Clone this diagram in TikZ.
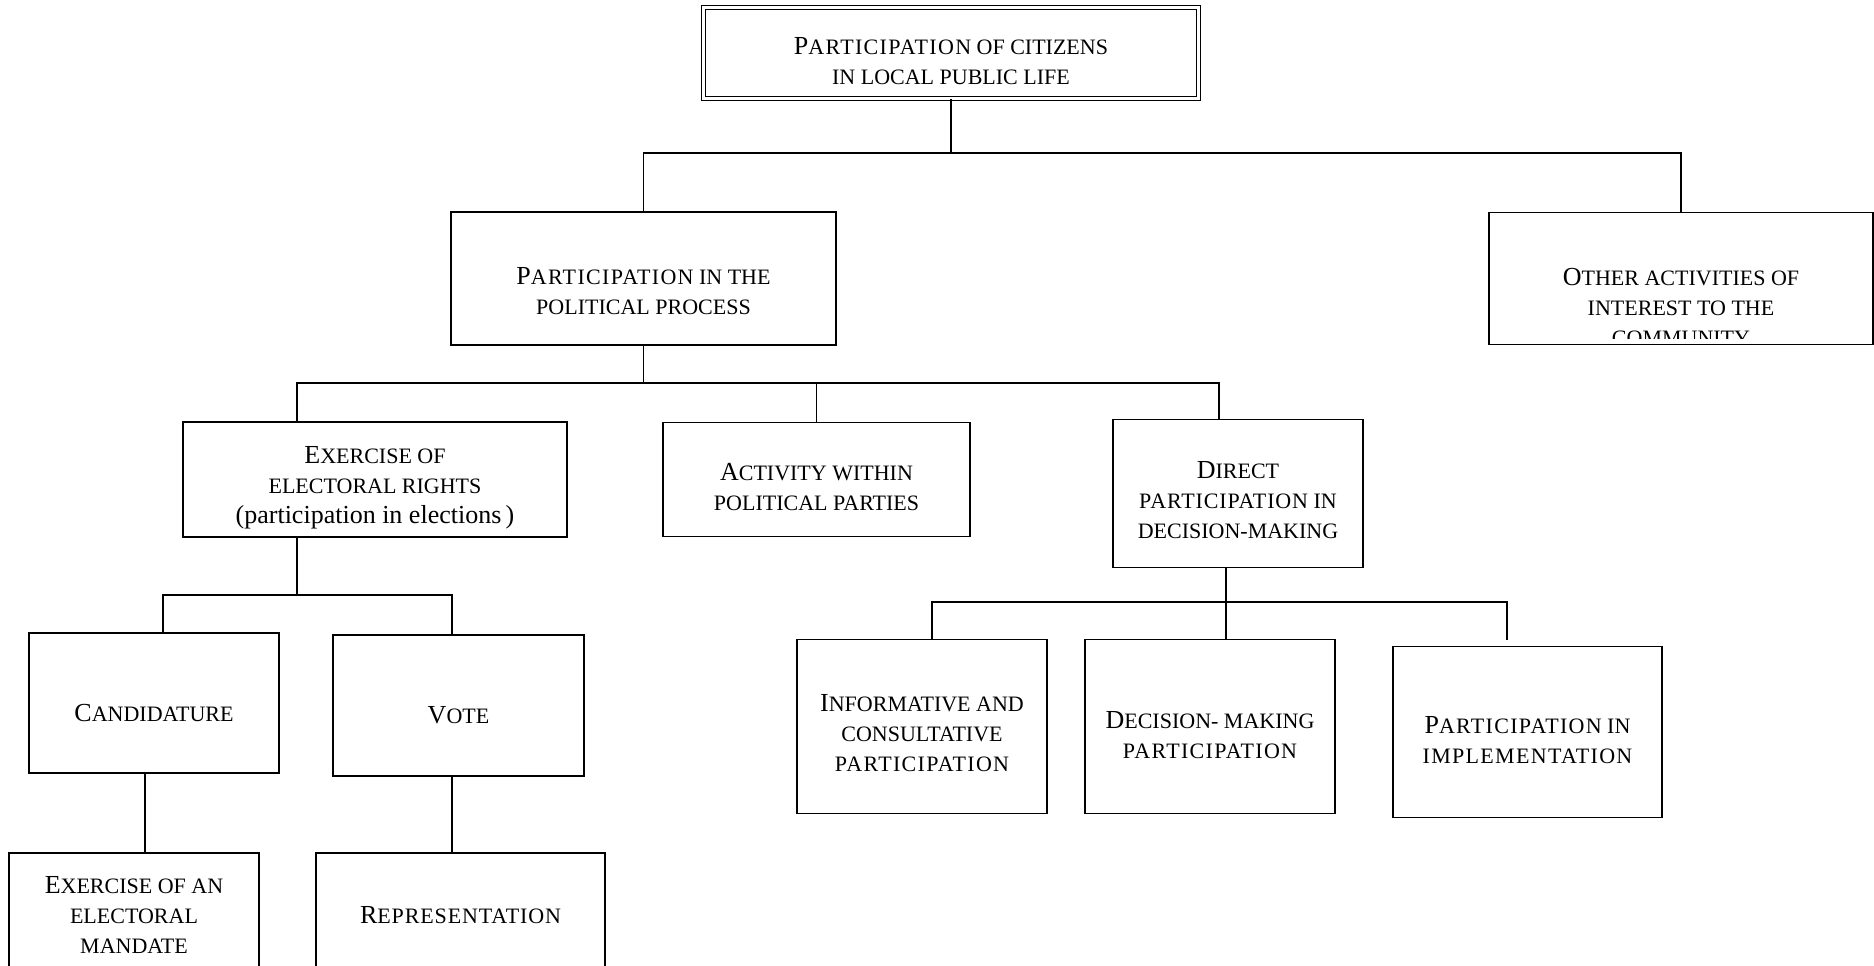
\documentclass[tikz,border=0pt]{standalone}
\usepackage{fontspec}
\setmainfont{Liberation Serif}
\usetikzlibrary{positioning}
\newcommand{\lowcaps}[1]{{\fontsize{11}{15}\selectfont #1}}
\newcommand{\spread}[2][6]{{\addfontfeatures{LetterSpace=#1}#2}}
\newcommand{\lead}[1]{\rule{0pt}{#1}}
\tikzset{
    %Define standard box
    box/.style={
      rectangle,
      draw=black, line width=0.8pt,
      inner sep=0pt,
      align=center,
      font=\fontsize{13}{15}\selectfont},
    frame/.style={
      double, double distance=1.2pt, line width=0.7pt},
    wire/.style={
      draw=black, line width=0.8pt},
}
\begin{document}
\begin{tikzpicture}[x=0.5pt,y=-0.5pt]
    \clip (0,0) rectangle (1874,965);
    \node (top) [box, frame, minimum width=247.5pt, minimum height=45.5pt] at (951,53)
          {\lead{16.6pt}P\lowcaps{\spread{ARTICIPATION} OF CITIZENS}\\ \lowcaps{IN LOCAL PUBLIC LIFE}};
    \node (pp) [box, minimum width=192.5pt, minimum height=66.5pt]
          [below of=top, node distance=112.75pt, xshift=-153.75pt]
          {\lead{21.5pt}P\lowcaps{\spread{ARTICIPATION} IN THE}\\ \lowcaps{POLITICAL PROCESS}};
    \node (other) [box, minimum width=192pt, minimum height=66pt]
          [right of=pp, node distance=518.75pt] {};
    \begin{scope}
      \clip (other.north west) rectangle ([yshift=3.5pt]other.south east);
      \node (othertext) [box, draw=none] at ([yshift=-14pt]other.center)
            {O\lowcaps{THER ACTIVITIES OF}\\ \lowcaps{INTEREST TO THE}\\ \lowcaps{COMMUNITY}};
    \end{scope}
    \node (er) [box, minimum width=192pt, minimum height=57.5pt]
          [below of=pp, node distance=100.5pt, xshift=-134.25pt]
          {\lead{16.9pt}E\lowcaps{XERCISE OF}\\ \lowcaps{ELECTORAL RIGHTS}\\
           (participation in elections\,)};
    \node (parties) [box, minimum width=153.5pt, minimum height=57pt]
          [right of=er, node distance=220.75pt]
          {\lead{16.3pt}A\lowcaps{CTIVITY WITHIN}\\ \lowcaps{POLITICAL PARTIES}};
    \node (direct) [box, minimum width=125pt, minimum height=74pt]
          [right of=parties, node distance=210.75pt, yshift=-7pt]
          {\lead{15.1pt}D\lowcaps{IRECT}\\ \lowcaps{\spread[4]{PARTICIPATION} IN}\\ \lowcaps{DECISION-MAKING}};
    \node (cand) [box, minimum width=125pt, minimum height=70pt]
          [below of=er, node distance=111.75pt, xshift=-110.5pt]
          {\lead{19.1pt}C\lowcaps{ANDIDATURE}};
    \node (vote) [box, minimum width=125.5pt, minimum height=70.5pt]
          [right of=cand, node distance=152.25pt, yshift=-1.25pt]
          {\lead{18.1pt}V\lowcaps{OTE}};
    \node (mandate) [box, minimum width=125pt, minimum height=62pt]
          [below of=cand, node distance=106pt, xshift=-10pt]
          {E\lowcaps{XERCISE OF AN}\\ \lowcaps{ELECTORAL}\\ \lowcaps{MANDATE}};
    \node (rep) [box, minimum width=144.5pt, minimum height=62pt]
          [below of=vote, node distance=104.75pt, xshift=1pt]
          {R\lowcaps{\spread[4]{EPRESENTATION}}};
    \node (inf) [box, minimum width=125pt, minimum height=87pt]
          [below of=direct, node distance=116.5pt, xshift=-158pt]
          {\lead{15.1pt}I\lowcaps{NFORMATIVE AND}\\ \lowcaps{CONSULTATIVE}\\ \lowcaps{\spread{PARTICIPATION}}};
    \node (dec) [box, minimum width=125pt, minimum height=87pt]
          [right of=inf, node distance=144pt]
          {\lead{16.9pt}D\lowcaps{ECISION- MAKING}\\ \lowcaps{\spread{PARTICIPATION}}};
    \node (impl) [box, minimum width=134.5pt, minimum height=85.5pt]
          [right of=dec, node distance=158.75pt, yshift=-2.75pt]
          {\lead{16.3pt}P\lowcaps{\spread{ARTICIPATION} IN}\\ \lowcaps{\spread{IMPLEMENTATION}}};

    \coordinate (j1) at (951,153);
    \coordinate (j2) at (643.5,383);
    \coordinate (j3) at (297,595);
    \coordinate (j4) at (1226,602);

    \draw [wire] (top.south) -- (j1);
    \draw [wire] (pp.north) |- (j1) -| (other.north);
    \draw [wire] (pp.south) -- (j2);
    \draw [wire] ([xshift=-39pt]er.north) |- (j2) -| ([xshift=-9.5pt]direct.north);
    \draw [wire] (parties.north) -- (parties.north |- j2);
    \draw [wire] ([xshift=-39pt]er.south) -- (j3);
    \draw [wire] ([xshift=4.5pt]cand.north) |- (j3) -| ([xshift=-3.25pt]vote.north);
    \draw [wire] ([xshift=-4.5pt]cand.south) -- ([xshift=-4.5pt]cand.south |- mandate.north);
    \draw [wire] ([xshift=-3.25pt]vote.south) -- ([xshift=-3.25pt]vote.south |- rep.north);
    \draw [wire] ([xshift=-6pt]direct.south) -- ([xshift=-6pt]direct.south |- dec.north);
    \draw [wire] ([xshift=5pt]inf.north) |- (j4) -| ([xshift=-10.25pt,yshift=3pt]impl.north);
\end{tikzpicture}
\end{document}
